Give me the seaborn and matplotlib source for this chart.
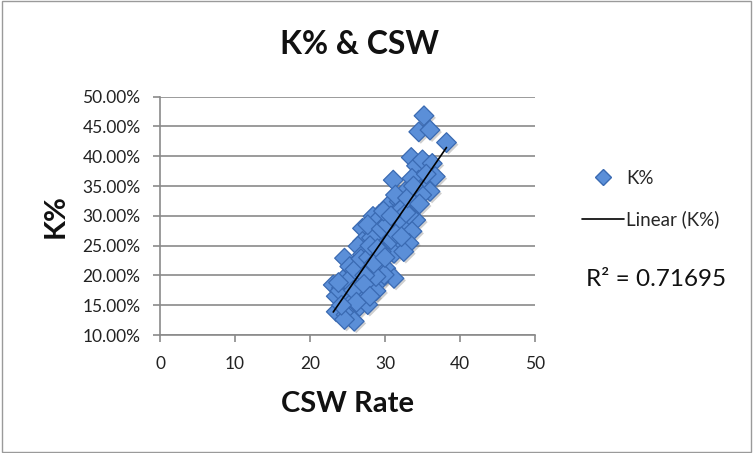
import numpy as np
import pandas as pd
import matplotlib
matplotlib.use("Agg")
import matplotlib.pyplot as plt
import matplotlib.patheffects as pe
from matplotlib.lines import Line2D
from matplotlib.patches import Rectangle
import seaborn as sns

# ---- data ----
csw_rate = [35.2, 34.5, 36.0, 38.2, 33.5, 34.2, 35.0, 36.3, 36.7, 31.1,
            34.5, 33.6, 35.4, 36.0, 32.7, 34.9, 33.6, 30.5, 31.9, 29.2,
            28.4, 34.1, 30.1, 27.0, 31.0, 32.7, 33.6, 28.8, 27.0, 29.2,
            30.5, 31.9, 33.2, 27.9, 31.2, 32.5, 24.6, 26.2, 27.5, 29.2,
            26.6, 28.4, 30.1, 31.2, 25.5, 23.1, 24.2, 26.2, 27.9, 29.2,
            27.5, 23.5, 25.1, 26.6, 25.3, 26.6, 27.7, 23.5, 24.8, 25.9,
            24.6, 24.0, 27.0, 28.8, 26.4, 29.7, 28.2, 31.6, 28.8, 27.7,
            31.4, 32.3, 33.2, 29.5, 28.6, 27.0, 25.3, 24.4, 25.5, 29.9,
            28.8, 26.4, 25.0, 25.8, 26.0, 26.8, 27.3, 27.8, 28.0, 28.5,
            29.0, 29.5, 30.0, 30.3, 30.8, 31.5, 32.0, 32.2, 32.8, 33.0,
            33.8, 34.6, 35.5, 26.2, 24.2, 27.2, 28.0, 23.8, 29.8, 30.8]
k_pct = [46.8, 44.1, 44.4, 42.3, 39.8, 38.4, 39.4, 38.8, 36.6, 36.0,
         36.0, 36.3, 34.9, 34.1, 34.1, 33.5, 32.4, 31.8, 32.4, 30.2,
         29.9, 29.3, 29.3, 27.9, 28.2, 28.2, 27.4, 27.4, 25.7, 25.7,
         25.1, 24.9, 25.4, 24.3, 23.7, 24.0, 22.9, 22.1, 21.8, 22.3,
         20.9, 20.6, 21.2, 19.5, 20.1, 18.4, 17.9, 18.7, 17.9, 19.0,
         19.3, 16.5, 16.8, 16.2, 15.1, 14.8, 15.1, 13.9, 13.4, 12.3,
         12.6, 17.4, 17.4, 17.4, 24.9, 26.8, 26.3, 30.7, 29.0, 28.5,
         33.5, 31.3, 30.2, 24.0, 23.5, 23.5, 21.5, 19.3, 18.2, 20.1,
         19.8, 19.8, 19.0, 17.5, 21.0, 22.8, 20.0, 23.0, 25.0, 22.0,
         24.5, 27.8, 23.0, 28.6, 26.0, 27.0, 29.5, 26.5, 30.5, 33.0,
         35.0, 32.0, 37.0, 15.5, 15.0, 18.5, 16.5, 18.8, 30.8, 30.0]
x_ticks = [0, 10, 20, 30, 40, 50]
y_ticks = [0.10, 0.15, 0.20, 0.25, 0.30, 0.35, 0.40, 0.45, 0.50]
r2_label = "R\u00b2 = 0.71695"

df = pd.DataFrame({"CSW Rate": csw_rate, "K%": np.array(k_pct) / 100.0})

sns.set_theme(style="white")
plt.rcParams["font.family"] = ["Lato", "DejaVu Sans"]

fig = plt.figure(figsize=(7.53, 4.53), dpi=100)
ax = fig.add_axes([160 / 753, 1 - 335 / 453, (535 - 160) / 753, (335 - 96.7) / 453])

face = "#5b8fd8"
edge = "#3a6ab2"
sns.scatterplot(data=df, x="CSW Rate", y="K%", marker="D", s=100,
                color=face, edgecolor=edge, linewidth=0.9, ax=ax, zorder=3,
                legend=False)
for coll in ax.collections:
    coll.set_path_effects([pe.SimplePatchShadow(offset=(1.5, -1.5), shadow_rgbFace="#777777", alpha=0.35),
                           pe.Normal()])

sns.regplot(data=df, x="CSW Rate", y="K%", scatter=False, ci=None, truncate=True,
            line_kws={"color": "black", "lw": 1.2, "zorder": 4}, ax=ax)

ax.set_xlim(0, 50)
ax.set_ylim(0.10, 0.50)
ax.set_xticks(x_ticks)
ax.set_yticks(y_ticks)
ax.set_xticklabels([str(t) for t in x_ticks], fontsize=12.5, color="#222222")
ax.set_yticklabels([f"{t*100:.2f}%" for t in y_ticks], fontsize=12.5, color="#222222")
ax.yaxis.grid(True, color="#8a8a8a", lw=1.2)
ax.xaxis.grid(False)
for s in ["top", "right"]:
    ax.spines[s].set_visible(False)
for s in ["left", "bottom"]:
    ax.spines[s].set_color("#8a8a8a")
    ax.spines[s].set_linewidth(1.2)
ax.tick_params(axis="both", which="both", direction="out", length=5, width=1.2,
               color="#8a8a8a", left=True, bottom=True)
ax.tick_params(axis="x", pad=10)
ax.tick_params(axis="y", pad=9)
ax.set_xlabel("CSW Rate", fontsize=21, fontweight="bold", labelpad=14, color="#111111")
ax.set_ylabel("K%", fontsize=21, fontweight="bold", labelpad=10, color="#111111")

fig.text(360 / 753, 1 - 45 / 453, "K% & CSW", ha="center", va="center",
         fontsize=23, fontweight="bold", color="#111111")

# legend
handles = [Line2D([], [], marker="D", color="none", markerfacecolor=face,
                  markeredgecolor=edge, markersize=8.5, label="K%"),
           Line2D([], [], color="black", lw=1.2, label="Linear (K%)")]
fig.legend(handles=handles, loc="center left", bbox_to_anchor=(573 / 753, 1 - 199 / 453),
           frameon=False, fontsize=13.5, handlelength=2.2, handletextpad=0.15,
           labelspacing=1.25, borderpad=0)

fig.text(586 / 753, 1 - 279 / 453, r2_label, ha="left", va="center", fontsize=17.5,
         color="#111111")

fig.patches.append(Rectangle((0.002, 0.003), 0.995, 0.994, transform=fig.transFigure,
                             fill=False, edgecolor="#9a9a9a", lw=1.0))

fig.savefig("out.png", dpi=100)
